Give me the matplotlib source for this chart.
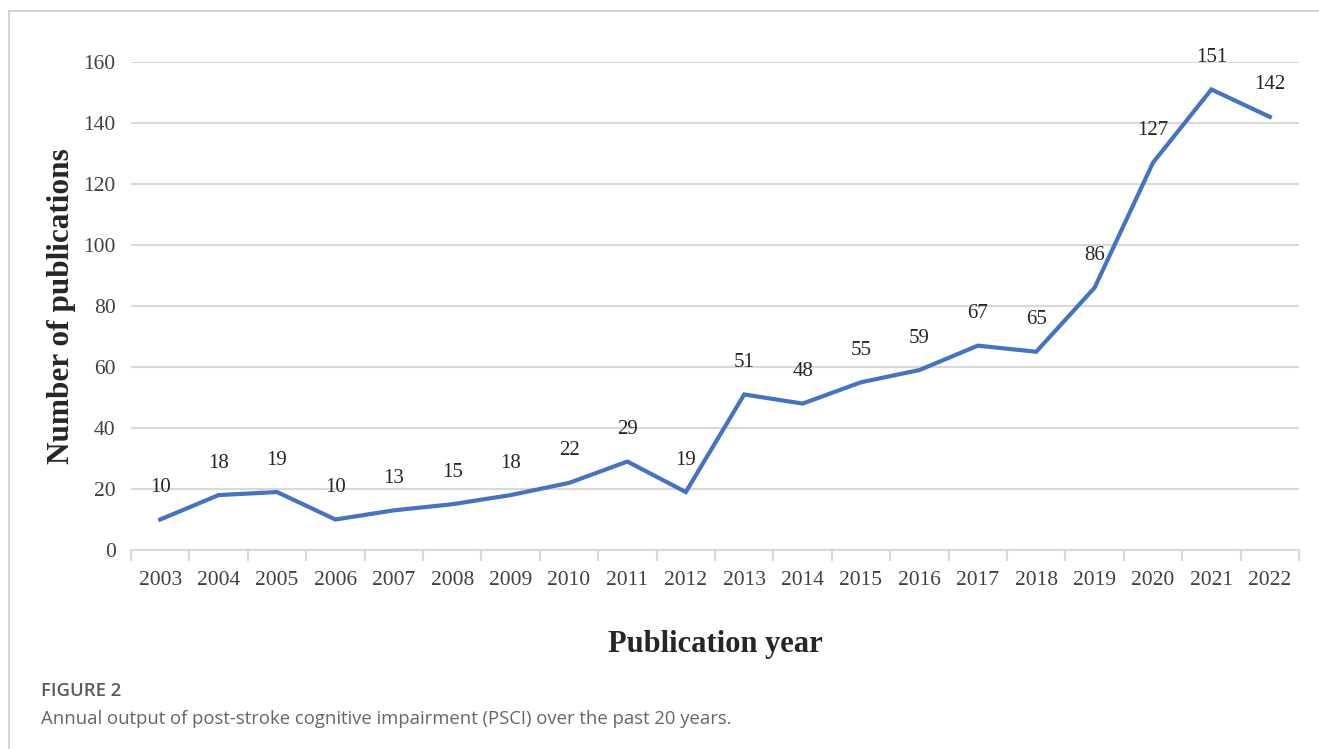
import matplotlib.pyplot as plt
from matplotlib.lines import Line2D
import numpy as np

# data
years = ["2003", "2004", "2005", "2006", "2007", "2008", "2009", "2010", "2011", "2012",
         "2013", "2014", "2015", "2016", "2017", "2018", "2019", "2020", "2021", "2022"]
counts = [10, 18, 19, 10, 13, 15, 18, 22, 29, 19,
          51, 48, 55, 59, 67, 65, 86, 127, 151, 142]

SERIF = ["Liberation Serif", "DejaVu Serif"]
SANS = ["Open Sans", "DejaVu Sans"]
LINE_COLOR = "#4472c4"
GRID_COLOR = "#d9d9d9"

fig = plt.figure(figsize=(13.19, 7.49), dpi=100)
ax = fig.add_axes([131 / 1319, 1 - 550 / 749, (1299 - 131) / 1319, (550 - 62) / 749])

x = np.arange(len(years))
ax.plot(x, counts, color=LINE_COLOR, lw=3.0, solid_joinstyle="miter", zorder=3)

for xi, v in zip(x, counts):
    ax.annotate(str(v), (xi, v), xytext=(0, 23), textcoords="offset points",
                ha="center", va="center", family=SERIF, fontsize=15, color="#262626")

ax.set_xlim(-0.5, len(years) - 0.5)
ax.set_ylim(0, 160)
ax.set_yticks(range(0, 161, 20))
ax.set_xticks(x)
ax.set_xticklabels(years)
ax.set_xticks(np.arange(-0.5, len(years), 1.0), minor=True)

ax.grid(axis="y", color=GRID_COLOR, lw=1.5, zorder=0)
ax.set_axisbelow(True)
for s in ["top", "right", "left"]:
    ax.spines[s].set_visible(False)
ax.spines["bottom"].set_color(GRID_COLOR)
ax.spines["bottom"].set_linewidth(1.5)

ax.tick_params(axis="x", which="major", length=0, pad=15)
ax.tick_params(axis="x", which="minor", length=8, width=1.5, color=GRID_COLOR)
ax.tick_params(axis="y", length=0, pad=11)
for lab in ax.get_xticklabels() + ax.get_yticklabels():
    lab.set_family(SERIF)
    lab.set_fontsize(15.5)
    lab.set_color("#404040")

ax.set_ylabel("Number of publications", family=SERIF, fontsize=22.5, fontweight="bold",
              color="#262626", labelpad=5.5)
ax.set_xlabel("Publication year", family=SERIF, fontsize=22, fontweight="bold",
              color="#262626", labelpad=29)

# frame around the figure panel
fig.add_artist(Line2D([9 / 1319, 1], [1 - 11 / 749, 1 - 11 / 749], transform=fig.transFigure,
                      color="#cccccc", lw=1.2))
fig.add_artist(Line2D([9 / 1319, 9 / 1319], [0, 1 - 11 / 749], transform=fig.transFigure,
                      color="#cccccc", lw=1.2))

fig.text(41 / 1319, 1 - 691 / 749, "FIGURE 2", family=SANS, fontweight="semibold",
         fontsize=13.3, color="#5a5a5a", va="center", ha="left")
fig.text(41 / 1319, 1 - 719 / 749,
         "Annual output of post-stroke cognitive impairment (PSCI) over the past 20 years.",
         family=SANS, fontsize=13.3, color="#666666", va="center", ha="left")

fig.savefig("out.png", dpi=100)
